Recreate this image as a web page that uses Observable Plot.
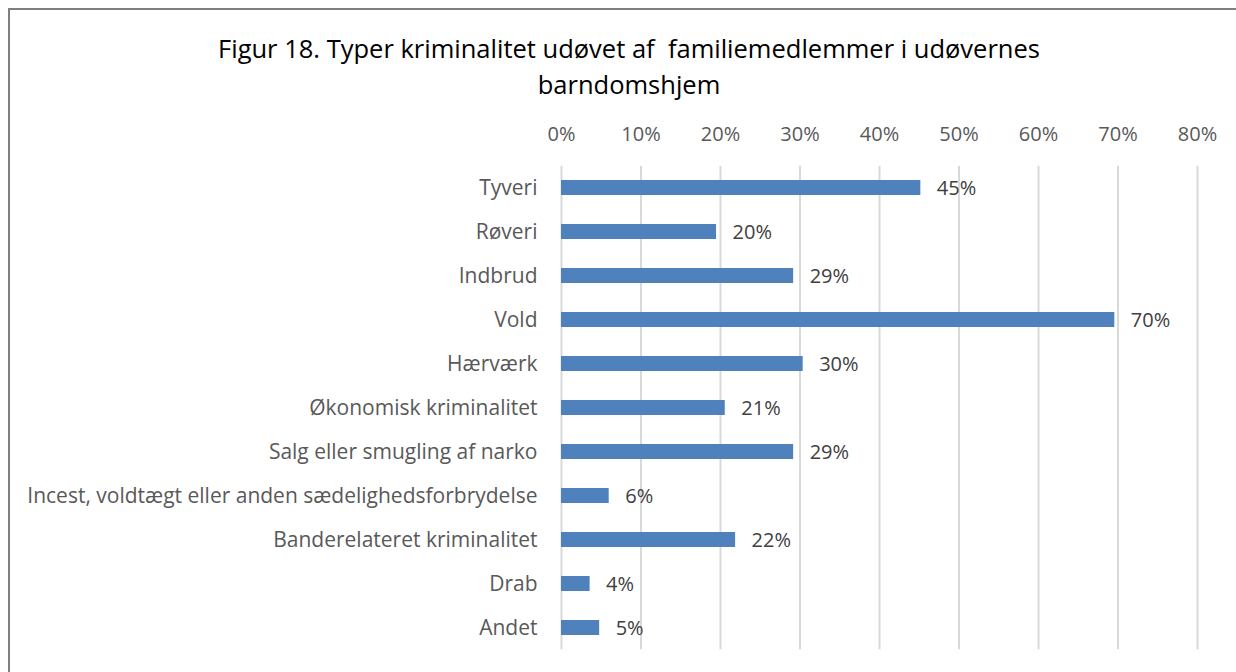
<!DOCTYPE html>
<html>
<head>
<meta charset="utf-8">
<script src="https://cdn.jsdelivr.net/npm/d3@7"></script>
<script src="https://cdn.jsdelivr.net/npm/@observablehq/plot@0.6"></script>
<style>
  html, body { margin: 0; padding: 0; background: #fff; width: 1236px; height: 672px; overflow: hidden; }
  #frame { position: absolute; left: 8px; top: 8px; width: 1240px; height: 700px; border: 2px solid #7f7f7f; }
  #title { position: absolute; left: 0; top: 30px; width: 1258px; text-align: center;
           font-family: "Open Sans", sans-serif; font-size: 25.5px; line-height: 36px; color: #000; }
  #chart { position: absolute; left: 0; top: 100px; width: 1236px; height: 551px; overflow: hidden; line-height: 0; }
  #chart svg { display: block; }
</style>
</head>
<body>
<div id="frame"></div>
<div id="title">Figur 18. Typer kriminalitet udøvet af&nbsp; familiemedlemmer i udøvernes<br>barndomshjem</div>
<div id="chart"></div>
<script>
const categories = [
  "Tyveri",
  "Røveri",
  "Indbrud",
  "Vold",
  "Hærværk",
  "Økonomisk kriminalitet",
  "Salg eller smugling af narko",
  "Incest, voldtægt eller anden sædelighedsforbrydelse",
  "Banderelateret kriminalitet",
  "Drab",
  "Andet"
];
const values = [0.452, 0.195, 0.292, 0.696, 0.304, 0.206, 0.292, 0.06, 0.219, 0.036, 0.048];
const valueLabels = ["45%", "20%", "29%", "70%", "30%", "21%", "29%", "6%", "22%", "4%", "5%"];
const xTicks = [0, 0.1, 0.2, 0.3, 0.4, 0.5, 0.6, 0.7, 0.8];

const data = categories.map((c, i) => ({category: c, value: values[i], label: valueLabels[i]}));

const chart = Plot.plot({
  width: 1236,
  height: 572,
  marginLeft: 561,
  marginRight: 39,
  marginTop: 66,
  marginBottom: 22,
  style: {fontFamily: "Open Sans, sans-serif", fontSize: "20px", color: "#595959", background: "transparent"},
  x: {domain: [0, 0.8], axis: null, label: null},
  y: {domain: categories, paddingInner: 0.65, paddingOuter: 0.325, axis: null, label: null},
  marks: [
    Plot.ruleX(xTicks, {x: d => d, y1: () => categories[0], y2: () => categories[categories.length - 1],
                        insetTop: -14.3, insetBottom: -14.3, stroke: "#d9d9d9", strokeWidth: 2}),
    Plot.axisX(xTicks, {anchor: "top", label: null, tickSize: 0, tickPadding: 26, tickFormat: d => Math.round(d * 100) + "%", fill: "#595959", fontSize: 20}),
    Plot.axisY({label: null, tickSize: 0, tickPadding: 24, fill: "#595959", fontSize: 21}),
    Plot.barX(data, {x: "value", y: "category", fill: "#4f81bd"}),
    Plot.text(data, {x: "value", y: "category", text: "label", textAnchor: "start", dx: 16, dy: 1, fill: "#404040", fontSize: 20})
  ]
});
document.getElementById("chart").appendChild(chart);
</script>
</body>
</html>
